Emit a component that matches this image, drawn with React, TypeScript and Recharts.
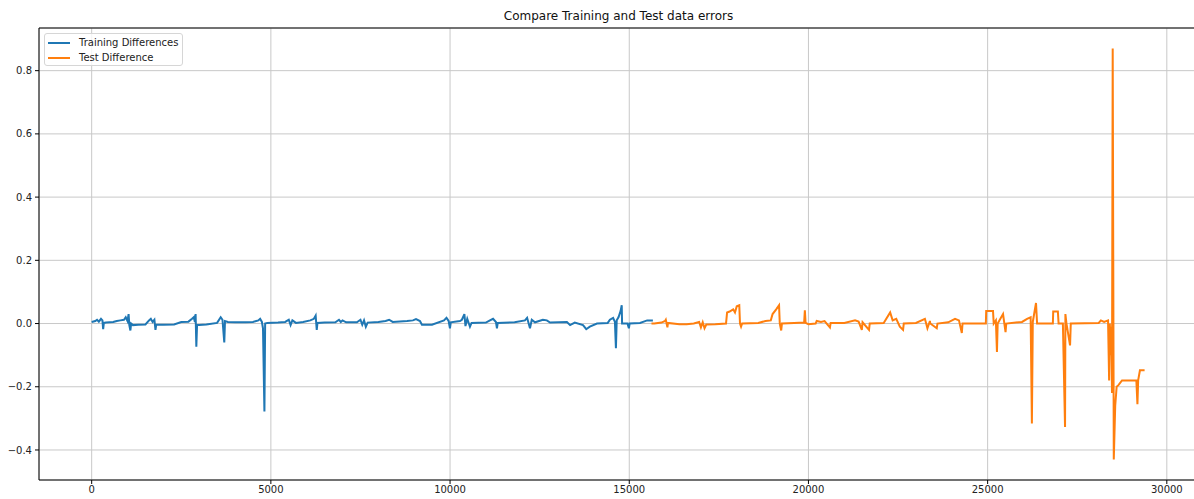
import React from "react";
import {
  LineChart,
  Line,
  XAxis,
  YAxis,
  CartesianGrid,
  ReferenceArea,
} from "recharts";

// values: [index, difference]
const trainingPoints: [number, number][] = [
  [0, 0.005], [100, 0.008], [150, 0.012], [200, 0.006], [260, 0.015], [300, 0.01],
  [320, -0.018], [340, 0.002], [400, 0.003], [600, 0.005], [700, 0.008], [800, 0.01],
  [900, 0.012], [950, 0.02], [1000, 0.008], [1030, 0.03], [1050, -0.005], [1080, -0.022],
  [1100, 0.0], [1150, -0.005], [1300, -0.004], [1500, -0.003], [1600, 0.01], [1650, 0.015],
  [1700, 0.005], [1750, 0.012], [1780, -0.02], [1800, -0.004], [2000, -0.004], [2300, -0.003],
  [2500, 0.005], [2700, 0.006], [2800, 0.015], [2850, 0.02], [2880, 0.005], [2900, 0.03],
  [2920, -0.073], [2940, -0.005], [3000, -0.005], [3200, -0.003], [3500, 0.002], [3600, 0.02],
  [3650, 0.012], [3700, -0.06], [3720, 0.008], [3800, 0.005], [4000, 0.004], [4300, 0.004],
  [4500, 0.005], [4650, 0.01], [4700, 0.015], [4750, 0.005], [4780, -0.015], [4820, -0.278],
  [4840, 0.0], [4900, 0.002], [5200, 0.003], [5400, 0.005], [5500, 0.012], [5550, -0.005],
  [5600, 0.01], [5700, 0.002], [5900, 0.005], [6100, 0.01], [6200, 0.015], [6250, 0.025],
  [6280, -0.02], [6300, 0.002], [6500, 0.003], [6800, 0.004], [6900, 0.012], [6950, 0.005],
  [7000, 0.01], [7100, 0.004], [7400, 0.004], [7500, 0.012], [7550, -0.004], [7600, 0.01],
  [7650, -0.01], [7700, 0.003], [8000, 0.005], [8200, 0.008], [8300, 0.012], [8400, 0.005],
  [8800, 0.008], [8964, 0.01], [9050, 0.014], [9160, 0.008], [9215, -0.004], [9495, -0.004],
  [9830, 0.01], [9900, 0.018], [9960, 0.008], [9997, -0.015], [10020, 0.004], [10275, 0.008],
  [10330, 0.012], [10400, 0.03], [10430, -0.008], [10480, 0.015], [10555, -0.01], [10600, 0.002],
  [11000, 0.003], [11113, 0.01], [11200, 0.015], [11280, 0.005], [11308, -0.015], [11330, 0.002],
  [11800, 0.004], [12090, 0.01], [12150, 0.018], [12230, -0.015], [12280, 0.012], [12370, 0.004],
  [12590, 0.012], [12700, 0.01], [12790, 0.003], [13260, 0.005], [13350, -0.005], [13480, 0.003],
  [13710, -0.005], [13800, -0.018], [13900, -0.01], [14100, 0.0], [14400, 0.002], [14460, 0.012],
  [14550, 0.018], [14600, 0.005], [14628, -0.078], [14650, 0.01], [14700, 0.02], [14760, 0.04],
  [14790, 0.058], [14800, 0.0], [14950, 0.0], [14990, -0.015], [15010, 0.0], [15300, 0.002],
  [15500, 0.01], [15660, 0.01],
];

const testPoints: [number, number][] = [
  [15620, 0.0], [15700, 0.0], [15900, 0.003], [16000, 0.008], [16020, 0.012], [16065, -0.012],
  [16080, 0.002], [16400, -0.002], [16600, -0.002], [16800, 0.0], [16950, 0.005], [17000, -0.012],
  [17050, 0.004], [17100, -0.015], [17150, -0.003], [17400, -0.002], [17700, 0.0], [17730, 0.035],
  [17800, 0.038], [17900, 0.045], [17950, 0.035], [18000, 0.055], [18070, 0.058], [18090, 0.0],
  [18120, -0.01], [18150, 0.0], [18600, 0.002], [18800, 0.008], [18950, 0.01], [19000, 0.03],
  [19100, 0.045], [19180, 0.058], [19200, 0.0], [19240, -0.022], [19260, 0.0], [19600, 0.002],
  [19880, 0.003], [19900, 0.042], [19920, 0.002], [20000, -0.002], [20200, 0.0], [20230, 0.008],
  [20350, 0.005], [20450, 0.008], [20600, -0.012], [20620, 0.002], [21000, 0.002], [21300, 0.01],
  [21400, 0.006], [21490, -0.02], [21510, 0.004], [21690, -0.02], [21710, 0.0], [22100, 0.002],
  [22280, 0.035], [22350, 0.01], [22450, 0.015], [22550, -0.01], [22640, -0.02], [22660, 0.0],
  [23000, 0.002], [23250, 0.015], [23320, -0.015], [23390, 0.008], [23400, 0.0], [23580, -0.015],
  [23600, 0.0], [23900, 0.004], [24090, 0.015], [24200, 0.01], [24280, -0.03], [24300, 0.0],
  [24950, 0.0], [24960, 0.04], [25150, 0.04], [25170, 0.0], [25230, 0.01], [25260, -0.09],
  [25280, 0.0], [25430, 0.03], [25500, -0.027], [25520, 0.0], [25960, 0.005], [26100, 0.015],
  [26200, 0.02], [26235, -0.316], [26260, 0.005], [26350, 0.065], [26380, 0.0], [26820, 0.0],
  [26830, 0.038], [26960, 0.038], [26980, 0.0], [27100, 0.0], [27160, -0.327], [27170, 0.03],
  [27200, 0.0], [27300, -0.069], [27320, 0.0], [28100, 0.002], [28160, 0.01], [28250, 0.005],
  [28360, 0.01], [28390, -0.18], [28410, 0.0], [28430, -0.1], [28450, -0.01], [28470, -0.22],
  [28490, 0.87], [28520, -0.43], [28560, -0.26], [28600, -0.2], [28650, -0.195], [28750, -0.18],
  [29150, -0.18], [29180, -0.255], [29200, -0.18], [29250, -0.148], [29380, -0.148],
];

const xTicks = [0, 5000, 10000, 15000, 20000, 25000, 30000];
const yTicks = [-0.4, -0.2, 0, 0.2, 0.4, 0.6, 0.8];

const X_DOMAIN: [number, number] = [-1470, 30870];
const Y_DOMAIN: [number, number] = [-0.495, 0.935];

const BLUE = "#1f77b4";
const ORANGE = "#ff7f0e";
const FONT = "'DejaVu Sans', sans-serif";

const trainingData = trainingPoints.map(([x, y]) => ({ x, y }));
const testData = testPoints.map(([x, y]) => ({ x, y }));

function formatY(v: number) {
  return v.toFixed(1).replace("-", "\u2212");
}

function LegendBox() {
  const row = (color: string, label: string) => (
    <div style={{ display: "flex", alignItems: "center", height: 15 }}>
      <div style={{ width: 22, height: 2, background: color, marginRight: 9 }} />
      <span>{label}</span>
    </div>
  );
  return (
    <div
      style={{
        position: "absolute",
        left: 44,
        top: 33,
        width: 139,
        height: 33,
        border: "1px solid #d6d6d6",
        borderRadius: 3,
        background: "rgba(255,255,255,0.8)",
        padding: "1px 0 0 3px",
        boxSizing: "border-box",
        fontFamily: FONT,
        fontSize: 10,
        color: "#222",
      }}
    >
      {row(BLUE, "Training Differences")}
      {row(ORANGE, "Test Difference")}
    </div>
  );
}

export default function App() {
  return (
    <div
      style={{
        position: "fixed",
        left: 0,
        top: 0,
        width: 1194,
        height: 499,
        overflow: "hidden",
        background: "#fff",
      }}
    >
      <div
        style={{
          position: "absolute",
          left: 39,
          width: 1159,
          top: 9,
          textAlign: "center",
          fontFamily: FONT,
          fontSize: 12,
          color: "#111",
        }}
      >
        Compare Training and Test data errors
      </div>
      <LineChart
        width={1210}
        height={499}
        margin={{ top: 28, right: 12, left: 0, bottom: 0 }}
      >
        <CartesianGrid stroke="#c8c8c8" strokeWidth={1} />
        <XAxis
          dataKey="x"
          type="number"
          domain={X_DOMAIN}
          ticks={xTicks}
          allowDataOverflow
          height={19}
          tickSize={4}
          tickMargin={2}
          axisLine={false}
          tickLine={{ stroke: "#000" }}
          tick={{ fontSize: 10, fontFamily: FONT, fill: "#222" }}
        />
        <YAxis
          dataKey="y"
          type="number"
          domain={Y_DOMAIN}
          ticks={yTicks}
          allowDataOverflow
          width={39}
          tickSize={4}
          tickMargin={3}
          axisLine={false}
          tickLine={{ stroke: "#000" }}
          tickFormatter={formatY}
          tick={{ fontSize: 10, fontFamily: FONT, fill: "#222" }}
        />
        <Line
          data={trainingData}
          dataKey="y"
          name="Training Differences"
          type="linear"
          stroke={BLUE}
          strokeWidth={2}
          dot={false}
          isAnimationActive={false}
        />
        <Line
          data={testData}
          dataKey="y"
          name="Test Difference"
          type="linear"
          stroke={ORANGE}
          strokeWidth={2}
          dot={false}
          isAnimationActive={false}
        />
        <ReferenceArea
          x1={X_DOMAIN[0]}
          x2={X_DOMAIN[1]}
          y1={Y_DOMAIN[0]}
          y2={Y_DOMAIN[1]}
          fill="none"
          fillOpacity={0}
          stroke="#000"
          strokeWidth={1}
          ifOverflow="visible"
        />
      </LineChart>
      <LegendBox />
    </div>
  );
}
